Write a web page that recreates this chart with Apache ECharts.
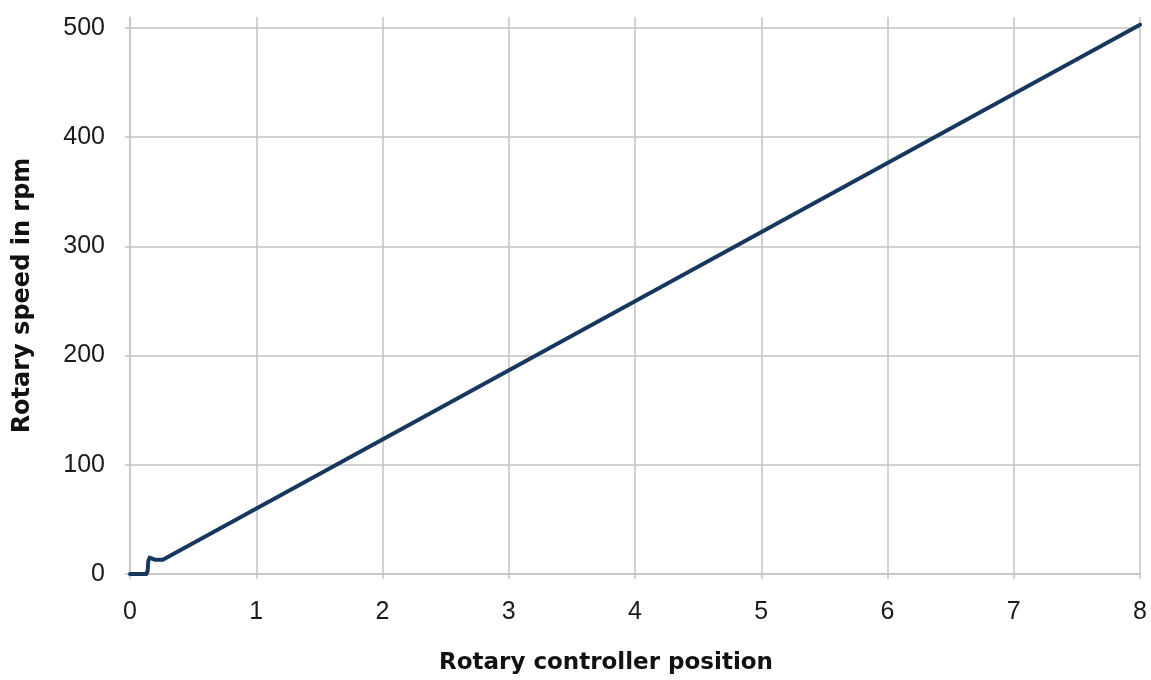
<!DOCTYPE html>
<html><head><meta charset="utf-8">
<script src="https://cdn.jsdelivr.net/npm/echarts@6/dist/echarts.min.js"></script>
<style>html,body{margin:0;padding:0;background:#fff}#c{width:1151px;height:680px}</style>
</head><body><div id="c"></div>
<script>
const positions = [0, 0.13, 0.14, 0.145, 0.155, 0.17, 0.2, 0.26, 8];
const speeds = [0, 0, 3, 12, 15, 14.5, 13, 13, 503];
const xTicks = [0, 1, 2, 3, 4, 5, 6, 7, 8];
const yTicks = [0, 100, 200, 300, 400, 500];
const xTitle = 'Rotary controller position';
const yTitle = 'Rotary speed in rpm';

const chart = echarts.init(document.getElementById('c'));
const gridColor = '#c3c3c3';
const labelFont = 'Arial, "Liberation Sans", sans-serif';
chart.setOption({
  animation: false,
  grid: {left: 130, right: 11, top: 17, bottom: 106},
  xAxis: {
    type: 'value', min: 0, max: 8, interval: 1,
    name: xTitle, nameLocation: 'middle', nameGap: 78,
    nameTextStyle: {fontFamily: 'DejaVu Sans', fontWeight: 'bold', fontSize: 23, color: '#111', padding: [0, 58, 0, 0]},
    axisLine: {show: true, lineStyle: {color: gridColor, width: 1.5}},
    axisTick: {show: true, length: 5, lineStyle: {color: gridColor, width: 1.5}},
    splitLine: {show: true, lineStyle: {color: gridColor, width: 1.5}},
    axisLabel: {customValues: xTicks, fontFamily: labelFont, fontSize: 25, color: '#1a1a1a', margin: 26}
  },
  yAxis: {
    type: 'value', min: 0, max: 510,
    name: yTitle, nameLocation: 'middle', nameGap: 95, nameRotate: 90,
    nameTextStyle: {fontFamily: 'DejaVu Sans', fontWeight: 'bold', fontSize: 24, color: '#111'},
    axisLine: {show: true, lineStyle: {color: gridColor, width: 1.5}},
    axisTick: {show: true, length: 5, customValues: yTicks, lineStyle: {color: gridColor, width: 1.5}},
    splitLine: {show: true, lineStyle: {color: gridColor, width: 1.5}},
    axisLabel: {customValues: yTicks, fontFamily: labelFont, fontSize: 25, color: '#1a1a1a', margin: 25}
  },
  series: [{
    type: 'line',
    data: positions.map((p, i) => [p, speeds[i]]),
    showSymbol: false,
    lineStyle: {color: '#17375e', width: 4, join: 'round', cap: 'round'},
    itemStyle: {color: '#17375e'}
  }]
});
</script></body></html>
